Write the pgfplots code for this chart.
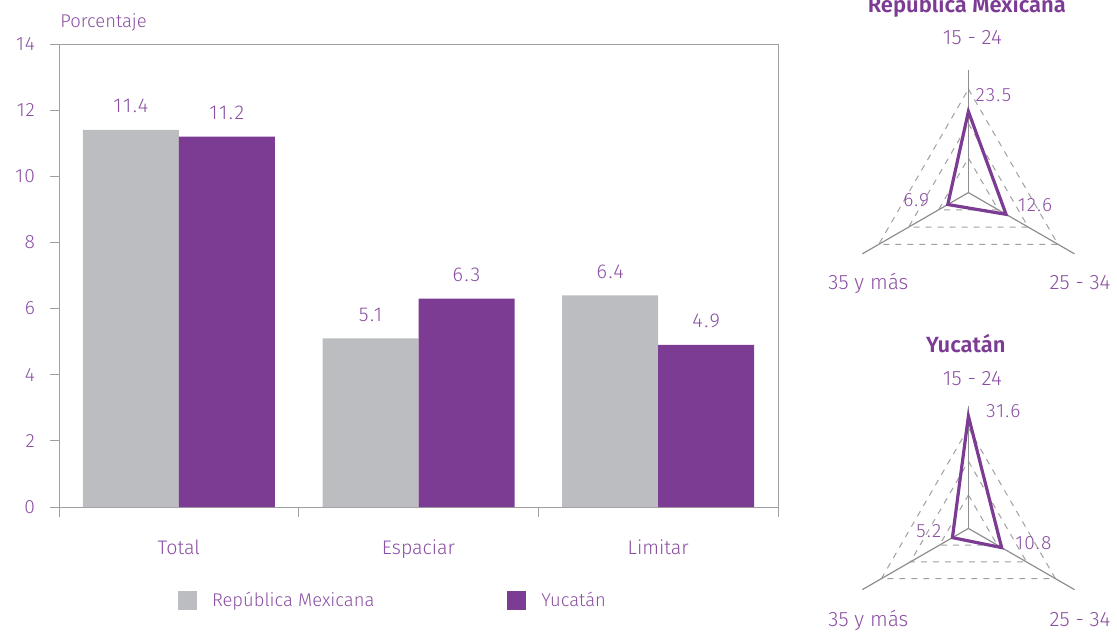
\documentclass[border=0pt]{standalone}
\usepackage{pgfplots}
\pgfplotsset{compat=1.18}
\usepackage{fontspec}
\setmainfont{Fira Sans}[UprightFont={* Light}, BoldFont={* SemiBold}]

\definecolor{morado}{HTML}{7D3C94}
\definecolor{moradotxt}{HTML}{8A4FA2}
\definecolor{gris}{HTML}{BCBDC0}
\definecolor{linea}{HTML}{A0A0A0}
\definecolor{spoke}{HTML}{8E8E8E}

% tamaños de letra
\newcommand{\ft}{\fontsize{9.6}{11}\selectfont\addfontfeature{LetterSpace=5}}
\newcommand{\fv}{\fontsize{10}{12}\selectfont\addfontfeature{LetterSpace=8}}
\newcommand{\fx}{\fontsize{9.8}{12}\selectfont}
\newcommand{\fl}{\fontsize{9.2}{11}\selectfont}
\newcommand{\fr}{\fontsize{10.4}{12}\selectfont}
\newcommand{\frv}{\fontsize{9.6}{11}\selectfont\addfontfeature{LetterSpace=6}}
\newcommand{\fti}{\fontsize{11}{13}\selectfont\bfseries}

\pgfplotsset{
  radar/.style={
    scale only axis, width=122.5pt, height=122.5pt,
    hide axis, clip=false, anchor=center,
  },
  spk/.style={draw=spoke, line width=0.6pt, no markers, data cs=polar},
  grd/.style={draw=linea, dashed, line width=0.5pt, no markers, data cs=polar},
  dat/.style={draw=morado, line width=1.6pt, line join=miter, no markers, data cs=polar},
}

\begin{document}
\begin{tikzpicture}
\useasboundingbox (0,0) rectangle (558.5pt,316.5pt);

% ---- barras ----
\begin{axis}[
  at={(29.5pt,63pt)}, anchor=south west,
  scale only axis, width=359.5pt, height=231.5pt,
  ybar=0pt, bar width=48pt,
  xmin=-0.5, xmax=2.5, ymin=0, ymax=14,
  xtick={0,1,2}, xticklabels={Total,Espaciar,Limitar},
  minor xtick={-0.5,0.5,1.5,2.5},
  ytick={0,2,...,14},
  tick pos=left, tick align=outside,
  major tick length=4.5pt, minor tick length=5pt,
  major x tick style={draw=none},
  tick style={draw=linea, line width=0.5pt},
  axis line style={draw=linea, line width=0.5pt},
  /pgf/number format/assume math mode=true,
  yticklabel style={font=\ft, text=moradotxt, xshift=-4pt},
  xticklabel style={font=\fx, text=moradotxt, yshift=-8.5pt},
  nodes near coords={\pgfmathprintnumber[fixed,fixed zerofill,precision=1]{\pgfplotspointmeta}},
  every node near coord/.append style={font=\fv, text=moradotxt, inner sep=0pt, anchor=base, yshift=8.5pt},
  legend columns=2,
  legend style={draw=none, fill=none, at={(axis description cs:0.165,-0.203)}, anchor=west,
    font=\fl, text=moradotxt, inner sep=0pt,
    /tikz/every odd column/.append style={column sep=5.5pt},
    /tikz/every even column/.append style={column sep=64.5pt}},
  legend image code/.code={\fill[#1] (0pt,-4.75pt) rectangle (9.5pt,4.75pt);},
]
\addplot[fill=gris, draw=none] coordinates {(0,11.4) (1,5.1) (2,6.4)};
\addlegendentry{República Mexicana}
\addplot[fill=morado, draw=none] coordinates {(0,11.2) (1,6.3) (2,4.9)};
\addlegendentry{Yucatán}
\end{axis}

\node[anchor=base west, inner sep=0pt, font=\fl, text=moradotxt] at (30pt,302.5pt) {Porcentaje};

% ---- radar República Mexicana ----
\begin{axis}[radar, at={(484.2pt,220.2pt)}, xmin=-35.5, xmax=35.5, ymin=-35.5, ymax=35.5]
\addplot[grd] coordinates {(90,10) (330,10) (210,10) (90,10)};
\addplot[grd] coordinates {(90,20) (330,20) (210,20) (90,20)};
\addplot[grd] coordinates {(90,30) (330,30) (210,30) (90,30)};
\addplot[spk] coordinates {(90,0) (90,35.5)};
\addplot[spk] coordinates {(330,0) (330,35.5)};
\addplot[spk] coordinates {(210,0) (210,35.5)};
\addplot[dat] coordinates {(90,23.5) (330,12.6) (210,6.9) (90,23.5) (330,12.6)};
\end{axis}

\node[anchor=base, inner sep=0pt, font=\fti, text=morado] at (483.4pt,310.2pt) {República Mexicana};
\node[anchor=base, inner sep=0pt, font=\fr, text=moradotxt] at (486.2pt,294pt) {15 - 24};
\node[anchor=base, inner sep=0pt, font=\fr, text=moradotxt] at (434.2pt,171.8pt) {35 y más};
\node[anchor=base, inner sep=0pt, font=\fr, text=moradotxt] at (540pt,171.8pt) {25 - 34};
\node[anchor=base, inner sep=0pt, font=\frv, text=moradotxt] at (496.7pt,265.7pt) {23.5};
\node[anchor=base, inner sep=0pt, font=\frv, text=moradotxt] at (517.5pt,210.7pt) {12.6};
\node[anchor=base, inner sep=0pt, font=\frv, text=moradotxt] at (458.1pt,213.2pt) {6.9};

% ---- radar Yucatán ----
\begin{axis}[radar, at={(484.2pt,52.3pt)}, xmin=-34.5, xmax=34.5, ymin=-34.5, ymax=34.5]
\addplot[grd] coordinates {(90,9.4) (330,9.4) (210,9.4) (90,9.4)};
\addplot[grd] coordinates {(90,18.9) (330,18.9) (210,18.9) (90,18.9)};
\addplot[grd] coordinates {(90,28.3) (330,28.3) (210,28.3) (90,28.3)};
\addplot[spk] coordinates {(90,0) (90,34.5)};
\addplot[spk] coordinates {(330,0) (330,34.5)};
\addplot[spk] coordinates {(210,0) (210,34.5)};
\addplot[dat] coordinates {(90,31.6) (330,10.8) (210,5.2) (90,31.6) (330,10.8)};
\end{axis}

\node[anchor=base, inner sep=0pt, font=\fti, text=morado] at (482.9pt,140.2pt) {Yucatán};
\node[anchor=base, inner sep=0pt, font=\fr, text=moradotxt] at (486.2pt,124pt) {15 - 24};
\node[anchor=base, inner sep=0pt, font=\fr, text=moradotxt] at (434.2pt,3.2pt) {35 y más};
\node[anchor=base, inner sep=0pt, font=\fr, text=moradotxt] at (540pt,3.2pt) {25 - 34};
\node[anchor=base, inner sep=0pt, font=\frv, text=moradotxt] at (501.7pt,107.8pt) {31.6};
\node[anchor=base, inner sep=0pt, font=\frv, text=moradotxt] at (516.7pt,41.8pt) {10.8};
\node[anchor=base, inner sep=0pt, font=\frv, text=moradotxt] at (464.4pt,47.8pt) {5.2};
\end{tikzpicture}
\end{document}
